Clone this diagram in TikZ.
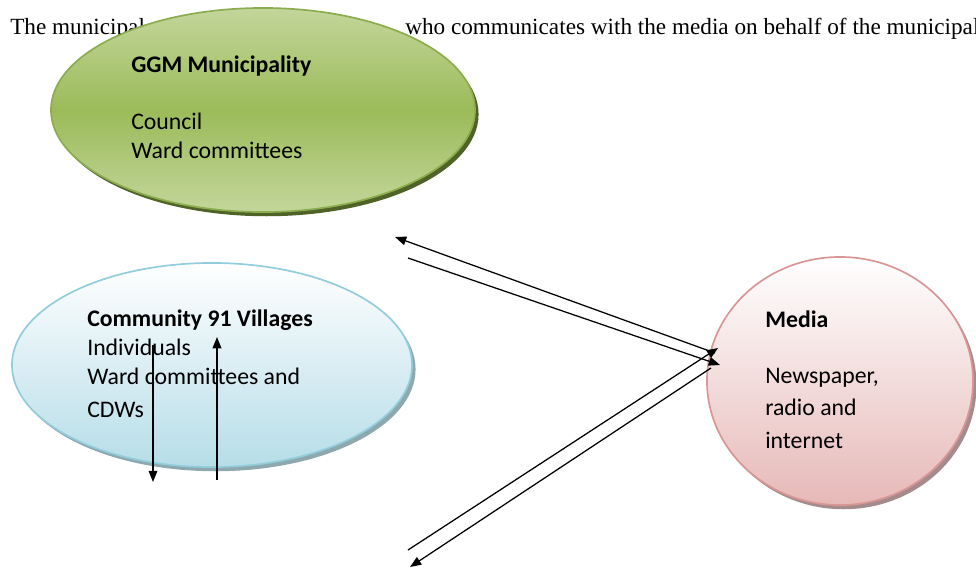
\documentclass[tikz,border=0pt]{standalone}
\usepackage{fontspec}
\setmainfont{Liberation Serif}
\newfontfamily\calfont{Carlito}
\usepackage{tikz}
\usetikzlibrary{arrows.meta, shapes.geometric, shadows}
\tikzset{>={Triangle[length=8pt, width=6.2pt]}}

\definecolor{ggmtop}{HTML}{C3D69B}
\definecolor{ggmmid}{HTML}{9BBB59}
\definecolor{ggmline}{HTML}{8CAD4E}
\definecolor{ggmshadow}{HTML}{4F6228}
\definecolor{commbot}{HTML}{B6DDE8}
\definecolor{commline}{HTML}{92CDDC}
\definecolor{commshadow}{HTML}{8DA8AF}
\definecolor{mediabot}{HTML}{E6B9B8}
\definecolor{medialine}{HTML}{D99694}
\definecolor{mediashadow}{HTML}{A58C8C}

\tikzset{
  bubble/.style={ellipse, line width=1.2pt, inner sep=0pt},
  lbl/.style={anchor=base west, inner sep=0pt, font=\calfont\fontsize{16.9}{20}\selectfont},
  hd/.style={lbl, font=\calfont\bfseries\fontsize{16.9}{20}\selectfont},
  flow/.style={->, line width=0.9pt}
}

\begin{document}
\begin{tikzpicture}[x=0.025cm, y=-0.025cm]
\useasboundingbox (0,0) rectangle (976,568);

\node[anchor=base west, inner sep=0pt, font=\fontsize{16.5}{20}\selectfont] (intro) at (10,34) {The municipal};
\node[anchor=base west, inner sep=0pt, font=\fontsize{16.5}{20}\selectfont] (introb) at (405,34) {who communicates with the media on behalf of the municipal};

\node[bubble, draw=ggmline, top color=ggmtop, bottom color=ggmtop, middle color=ggmmid,
      minimum width=10.6cm, minimum height=5.1cm,
      drop shadow={shadow xshift=2.5pt, shadow yshift=-3pt, fill=ggmshadow, opacity=1}]
      (ggm) at (263,110) {};
\node[bubble, draw=commline, top color=white, bottom color=commbot,
      minimum width=10cm, minimum height=5.1cm,
      drop shadow={shadow xshift=2.5pt, shadow yshift=-3pt, fill=commshadow, opacity=1}]
      (comm) at (212,365) {};
\node[bubble, draw=medialine, top color=white, bottom color=mediabot,
      minimum width=6.65cm, minimum height=6.2cm,
      drop shadow={shadow xshift=2.5pt, shadow yshift=-3pt, fill=mediashadow, opacity=1}]
      (media) at (840,381) {};

\node[hd] (ggmtitle) at (131,72) {GGM Municipality};
\node[lbl] (council) at (131,129) {Council};
\node[lbl] (wardc) at (131,158) {Ward committees};

\node[hd] (commtitle) at (87,326) {Community 91 Villages};
\node[lbl] (indiv) at (87,355) {Individuals};
\node[lbl] (wardcdw) at (87,384) {Ward committees and};
\node[lbl] (cdw) at (87,417) {CDWs};

\node[hd] (mediatitle) at (765,327) {Media};
\node[lbl] (news) at (765,383) {Newspaper,};
\node[lbl] (radio) at (765,415) {radio and};
\node[lbl] (inet) at (765,448) {internet};

\coordinate (ma) at (715,353);
\coordinate (ga) at (395,237);
\coordinate (gb) at (408,258);
\coordinate (mb) at (720,365);
\coordinate (lb) at (408,550);
\coordinate (mc) at (718,348);
\coordinate (md) at (711,368);
\coordinate (la) at (410,567);
\coordinate (dtop) at (153,345);
\coordinate (dbot) at (153,482);
\coordinate (ubot) at (217,480);
\coordinate (utop) at (217,337);

\draw[flow] (ma) -- (ga);
\draw[flow] (gb) -- (mb);
\draw[flow] (lb) -- (mc);
\draw[flow] (md) -- (la);
\draw[flow] (dtop) -- (dbot);
\draw[flow] (ubot) -- (utop);
\end{tikzpicture}
\end{document}
